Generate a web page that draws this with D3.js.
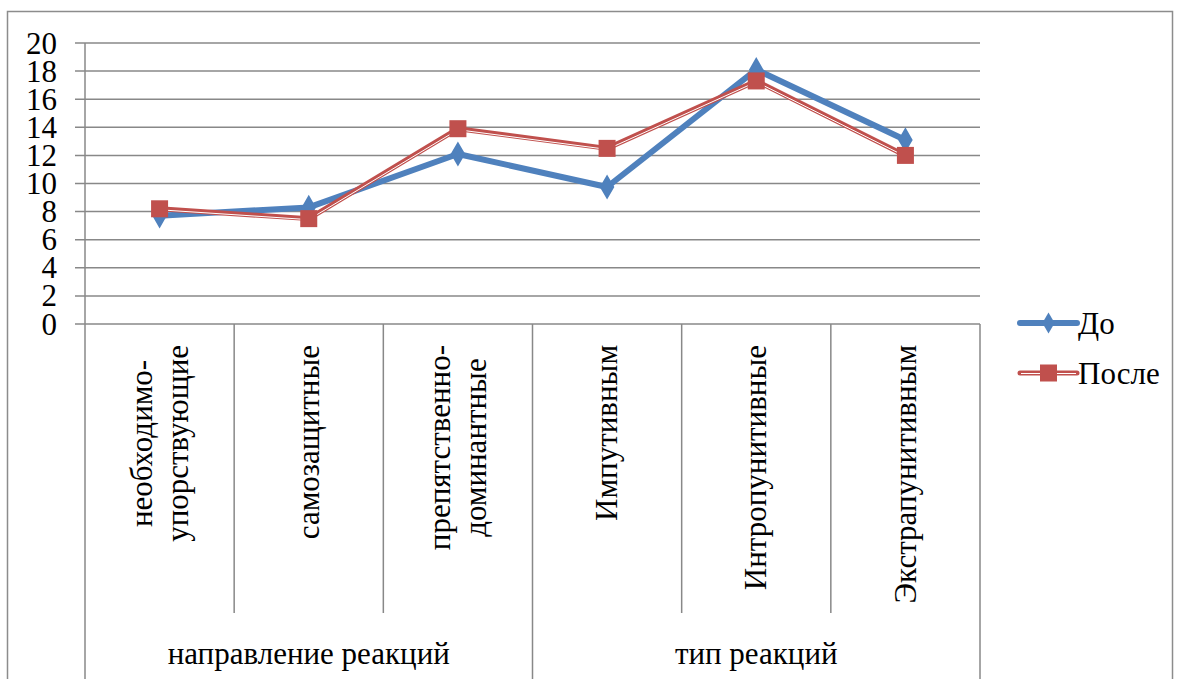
<!DOCTYPE html>
<html><head><meta charset="utf-8"><script src="https://cdn.jsdelivr.net/npm/d3@7"></script></head>
<body style="margin:0">
<svg id="svg_elem" width="1179" height="679"></svg>
<script>
//define data
const categories = [
	['необходимо-', 'упорствующие'],
	['самозащитные'],
	['препятственно-', 'доминантные'],
	['Импутивным'],
	['Интропунитивные'],
	['Экстрапунитивным']
];
const groups = ['направление реакций', 'тип реакций'];
const groupSizes = [3, 3];
const seriesNames = ['До', 'После'];
const valuesBefore = [7.7, 8.3, 12.1, 9.75, 18.1, 13.1];
const valuesAfter = [8.2, 7.5, 13.9, 12.5, 17.3, 12.0];
const yTicks = [0, 2, 4, 6, 8, 10, 12, 14, 16, 18, 20];

//define constants
const svgWidth = 1179;
const svgHeight = 679;
const plotLeft = 85;
const plotRight = 980;
const plotTop = 43;
const plotBottom = 324;
const catTickBottom = 613;
const labelTop = 345;
const gridColor = '#888888';
const blue = '#4f81bd';
const red = '#c0504d';
const fontName = 'Liberation Serif';

var svg = d3.select('#svg_elem');

//helper: serif text
function setFont(sel, size) {
	return sel
		.attr('font-family', fontName)
		.style('font-family', `"${fontName}"`)
		.style('font-size', `${size}px`);
}

//outer border
svg.append('rect')
	.attr('x', 7.5).attr('y', 11.5)
	.attr('width', 1165).attr('height', 700)
	.attr('fill', 'none')
	.attr('stroke', '#8c8c8c')
	.attr('stroke-width', 1.5);

//scales
var xScale = d3.scaleBand()
	.domain(d3.range(categories.length))
	.range([plotLeft, plotRight]);
var yScale = d3.scaleLinear()
	.domain([0, 20])
	.range([plotBottom, plotTop]);

//gridlines
svg.append('g')
	.selectAll('line')
	.data(yTicks)
	.enter()
	.append('line')
		.attr('x1', plotLeft - 10)
		.attr('x2', plotRight)
		.attr('y1', d => yScale(d))
		.attr('y2', d => yScale(d))
		.attr('stroke', gridColor)
		.attr('stroke-width', 1.5);

//y axis line
svg.append('line')
	.attr('x1', plotLeft).attr('x2', plotLeft)
	.attr('y1', plotTop).attr('y2', plotBottom)
	.attr('stroke', gridColor).attr('stroke-width', 1.5);

//y labels
svg.selectAll('.ylab')
	.data(yTicks)
	.enter()
	.append('text')
		.attr('class', 'ylab')
		.text(d => d)
		.attr('x', plotLeft - 28)
		.attr('y', d => yScale(d) + 10.5)
		.attr('text-anchor', 'end')
		.call(setFont, 31);

//category ticks
var boundaries = d3.range(categories.length + 1);
var groupEdges = [0];
groupSizes.forEach(s => groupEdges.push(groupEdges[groupEdges.length - 1] + s));
svg.append('g')
	.selectAll('line')
	.data(boundaries)
	.enter()
	.append('line')
		.attr('x1', d => d < categories.length ? xScale(d) : plotRight)
		.attr('x2', d => d < categories.length ? xScale(d) : plotRight)
		.attr('y1', plotBottom)
		.attr('y2', d => groupEdges.includes(d) ? svgHeight + 5 : catTickBottom)
		.attr('stroke', gridColor)
		.attr('stroke-width', 1.5);

//category labels (top aligned, reading upward)
var catTexts = [];
categories.forEach((lines, i) => {
	var cx = xScale(i) + xScale.bandwidth() / 2;
	var lineGap = 36;
	var texts = lines.map((l, j) => svg.append('text')
		.text(l)
		.call(setFont, 31)
		.attr('text-anchor', 'end')
		.attr('dy', '0.33em')
		.attr('transform', `translate(${cx + (j - (lines.length - 1) / 2) * lineGap}, ${labelTop}) rotate(-90)`));
	catTexts.push({ texts: texts, cx: cx, lineGap: lineGap });
});

//centre multi-line labels on their longest line once fonts are ready
document.fonts.ready.then(() => {
	catTexts.forEach(c => {
		if (c.texts.length < 2) return;
		var maxLen = d3.max(c.texts, t => t.node().getComputedTextLength());
		var cy = labelTop + maxLen / 2;
		c.texts.forEach((t, j) => {
			var x = c.cx + (j - (c.texts.length - 1) / 2) * c.lineGap;
			t.attr('text-anchor', 'middle')
				.attr('transform', `translate(${x}, ${cy}) rotate(-90)`);
		});
	});
});

//group labels
svg.selectAll('.glab')
	.data(groups)
	.enter()
	.append('text')
		.attr('class', 'glab')
		.text(d => d)
		.attr('x', (d, i) => {
			var a = xScale(groupEdges[i]);
			var b = groupEdges[i + 1] < categories.length ? xScale(groupEdges[i + 1]) : plotRight;
			return (a + b) / 2;
		})
		.attr('y', 664)
		.attr('text-anchor', 'middle')
		.call(setFont, 31);

//lines
var lineGen = d3.line()
	.x((d, i) => xScale(i) + xScale.bandwidth() / 2)
	.y(d => yScale(d));

svg.append('path')
	.datum(valuesBefore)
	.attr('d', lineGen)
	.attr('fill', 'none')
	.attr('stroke', blue)
	.attr('stroke-width', 6)
	.attr('stroke-linejoin', 'round');

svg.append('path')
	.datum(valuesAfter)
	.attr('d', lineGen)
	.attr('fill', 'none')
	.attr('stroke', red)
	.attr('stroke-width', 5)
	.attr('stroke-linejoin', 'round');
svg.append('path')
	.datum(valuesAfter)
	.attr('d', lineGen)
	.attr('transform', 'translate(0, 1)')
	.attr('fill', 'none')
	.attr('stroke', '#ffffff')
	.attr('stroke-width', 1);

//markers
var diamond = d3.symbol().type(d3.symbolDiamond).size(130);
svg.append('g')
	.selectAll('path')
	.data(valuesBefore)
	.enter()
	.append('path')
		.attr('d', diamond)
		.attr('transform', (d, i) => `translate(${xScale(i) + xScale.bandwidth() / 2}, ${yScale(d)})`)
		.attr('fill', blue)
		.attr('stroke', blue)
		.attr('stroke-width', 2);

svg.append('g')
	.selectAll('rect')
	.data(valuesAfter)
	.enter()
	.append('rect')
		.attr('x', (d, i) => xScale(i) + xScale.bandwidth() / 2 - 8.5)
		.attr('y', d => yScale(d) - 8.5)
		.attr('width', 17)
		.attr('height', 17)
		.attr('fill', red);

//legend
var legend = svg.append('g')
	.selectAll('g')
	.data(seriesNames)
	.enter()
	.append('g')
		.attr('transform', (d, i) => `translate(1020, ${323 + i * 50})`);
legend.append('line')
	.attr('x1', 0).attr('x2', 57)
	.attr('y1', 0).attr('y2', 0)
	.attr('stroke', (d, i) => i == 0 ? blue : red)
	.attr('stroke-width', (d, i) => i == 0 ? 6 : 5)
	.attr('stroke-linecap', 'round');
legend.filter((d, i) => i == 1).append('line')
	.attr('x1', 1).attr('x2', 56)
	.attr('y1', 0.5).attr('y2', 0.5)
	.attr('stroke', '#fff')
	.attr('stroke-width', 1);
legend.filter((d, i) => i == 0).append('path')
	.attr('d', diamond)
	.attr('transform', 'translate(28.5, 0)')
	.attr('fill', blue);
legend.filter((d, i) => i == 1).append('rect')
	.attr('x', 20).attr('y', -8.5)
	.attr('width', 17).attr('height', 17)
	.attr('fill', red);
legend.append('text')
	.text(d => d)
	.attr('x', 58)
	.attr('y', 11)
	.call(setFont, 31);
</script>
</body>
</html>
